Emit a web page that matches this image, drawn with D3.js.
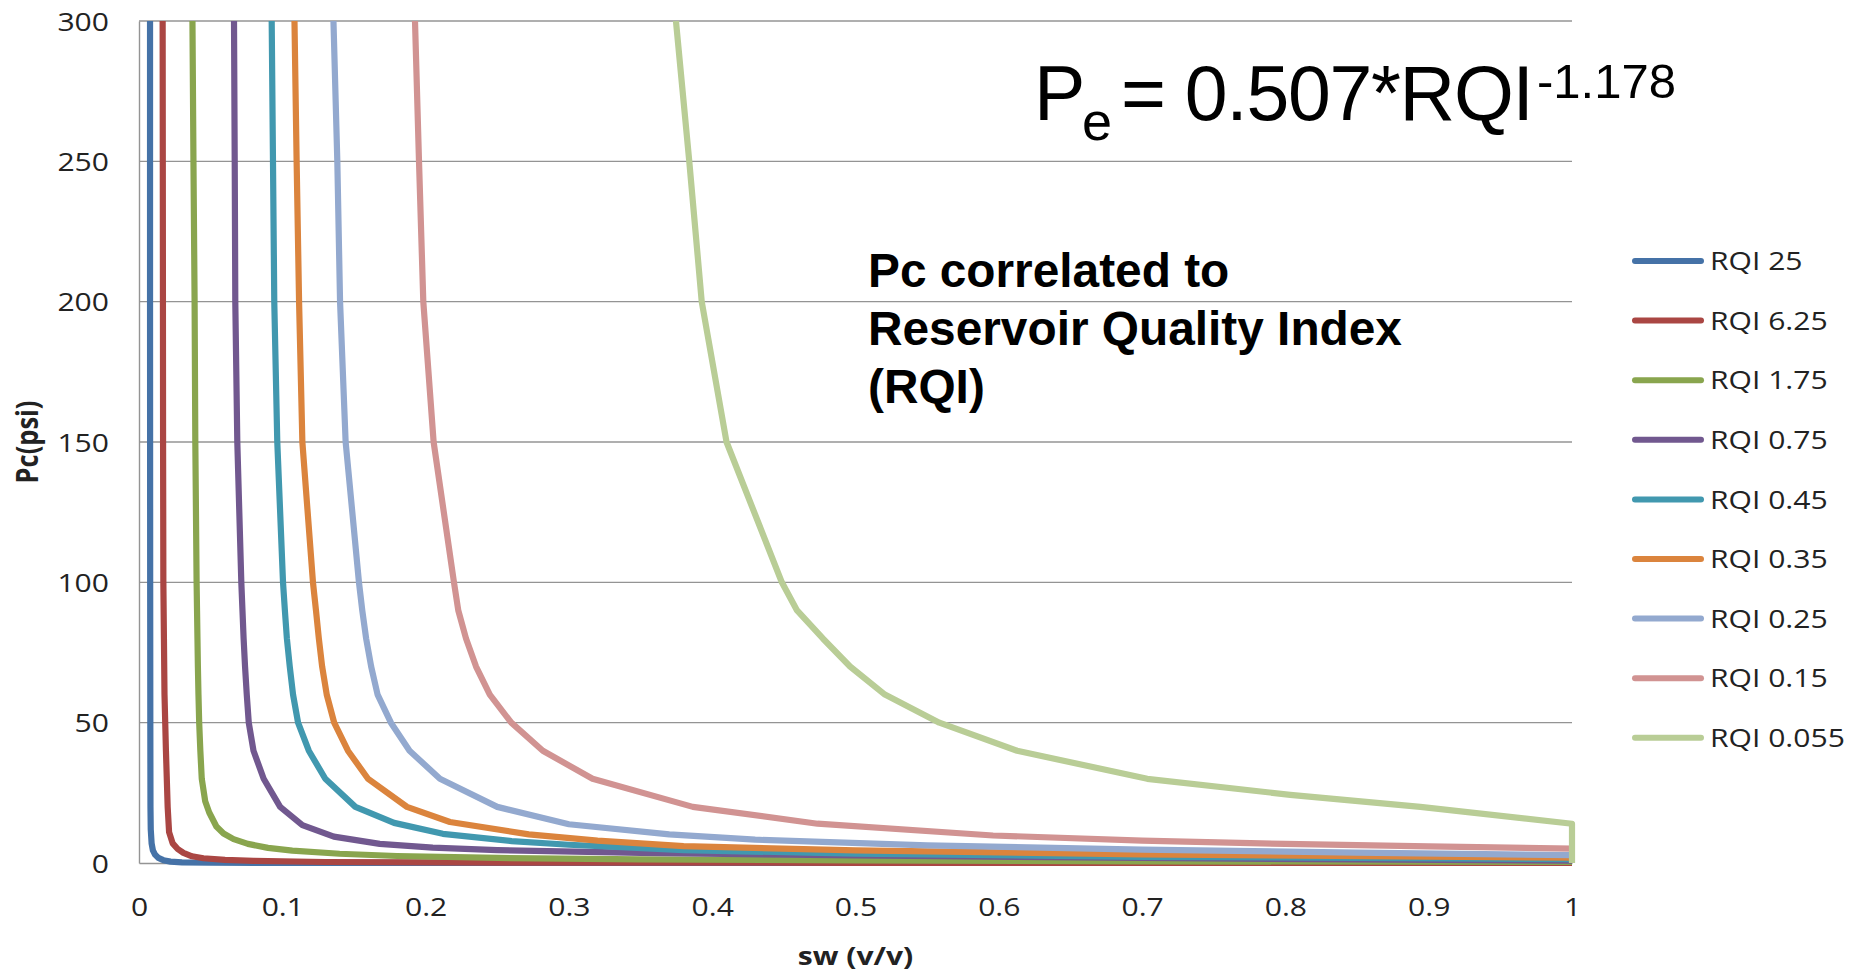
<!DOCTYPE html>
<html>
<head>
<meta charset="utf-8">
<script src="https://cdn.jsdelivr.net/npm/d3@7"></script>
<style>
  html, body { margin: 0; padding: 0; background: #fff; }
  svg { display: block; }
</style>
</head>
<body>
<div class="chart-container"></div>
<script>
// [sw (v/v), Pc (psi)] pairs
var rqi25 = [[0.0077,300],[0.0077,200],[0.0078,100],[0.0079,50],[0.008,20],[0.0082,12],[0.0088,7],[0.0097,4.5],[0.0112,3],[0.0135,1.8],[0.017,1],[0.022,0.5],[0.03,0.25],[0.05,0.1],[0.1,0.05],[0.3,0.02],[1,0.01]];
var rqi625 = [[0.0165,300],[0.0166,250],[0.0167,200],[0.0168,150],[0.017,100],[0.0174,80],[0.0178,60],[0.0183,50],[0.0188,40],[0.0194,30],[0.02,20],[0.021,11],[0.0235,7],[0.027,5],[0.031,3.6],[0.037,2.4],[0.045,1.7],[0.06,1.1],[0.08,0.75],[0.13,0.35],[0.25,0.15],[0.5,0.08],[1,0.05]];
var rqi175 = [[0.0373,300],[0.038,250],[0.0388,200],[0.0393,150],[0.0402,100],[0.0405,90],[0.0408,80],[0.0411,70],[0.0415,60],[0.042,50],[0.0428,40],[0.0438,30],[0.0462,22],[0.049,18],[0.054,13],[0.059,10.5],[0.066,8.5],[0.076,6.8],[0.09,5.4],[0.107,4.4],[0.14,3.3],[0.18,2.5],[0.25,1.8],[0.35,1.3],[0.5,0.9],[0.7,0.6],[1,0.35]];
var rqi075 = [[0.0663,300],[0.0668,250],[0.0672,200],[0.0686,150],[0.0714,100],[0.0722,90],[0.073,80],[0.074,70],[0.0752,60],[0.0766,50],[0.0799,40],[0.087,30],[0.0985,20],[0.114,13.5],[0.136,9.4],[0.168,6.8],[0.205,5.5],[0.25,4.6],[0.35,3.6],[0.5,2.7],[0.7,1.8],[1,0.8]];
var rqi045 = [[0.0926,300],[0.0935,250],[0.0944,200],[0.0965,150],[0.1005,100],[0.1018,90],[0.1032,80],[0.1052,70],[0.1075,60],[0.111,50],[0.1185,40],[0.13,30],[0.151,20],[0.178,14.3],[0.212,10.4],[0.26,7.8],[0.3,6.5],[0.38,4.6],[0.5,3.3],[0.7,2.2],[1,1.4]];
var rqi035 = [[0.1085,300],[0.11,250],[0.1117,200],[0.114,150],[0.1214,100],[0.1235,90],[0.1255,80],[0.1278,70],[0.131,60],[0.1362,50],[0.1458,40],[0.1598,30],[0.187,20],[0.217,14.6],[0.272,10.2],[0.32,8],[0.38,6],[0.5,4.5],[0.7,3.1],[1,1.9]];
var rqi025 = [[0.1357,300],[0.1384,250],[0.1403,200],[0.1442,150],[0.1535,100],[0.1558,90],[0.1585,80],[0.162,70],[0.1665,60],[0.1758,50],[0.1888,40],[0.21,30],[0.25,20],[0.3,13.8],[0.37,10.2],[0.43,8.3],[0.55,6.3],[0.7,4.8],[0.85,3.7],[1,2.8]];
var rqi015 = [[0.1926,300],[0.1954,250],[0.1984,200],[0.2056,150],[0.2198,100],[0.2228,90],[0.2282,80],[0.2352,70],[0.2448,60],[0.2598,50],[0.2818,40],[0.3165,30],[0.3865,20],[0.4735,14],[0.596,9.8],[0.7,8],[0.8,6.8],[0.9,5.9],[1,5.1]];
var rqi0055 = [[0.3747,300],[0.384,250],[0.3927,200],[0.41,150],[0.4486,100],[0.4592,90],[0.4772,80],[0.4962,70],[0.5205,60],[0.5585,50],[0.6128,40],[0.7036,30],[0.8034,24.3],[0.8942,20],[1,14],[1,0]];

var seriesNames = ["RQI 25", "RQI 6.25", "RQI 1.75", "RQI 0.75", "RQI 0.45", "RQI 0.35", "RQI 0.25", "RQI 0.15", "RQI 0.055"];
var seriesData = [rqi25, rqi625, rqi175, rqi075, rqi045, rqi035, rqi025, rqi015, rqi0055];
var seriesColors = ["#4572a7", "#aa4643", "#89a54e", "#71588f", "#4198af", "#db843d", "#93a9cf", "#d19392", "#b9cd96"];

var xTicks = [0, 0.1, 0.2, 0.3, 0.4, 0.5, 0.6, 0.7, 0.8, 0.9, 1];
var yTicks = [0, 50, 100, 150, 200, 250, 300];

var chart_width = 1853;
var chart_height = 975;
var plot = {left: 139, right: 1572, top: 21, bottom: 863};

// the source picture was stretched sideways, so its axis text is wider than normal
var textStretch = 1.18;
var axisFont = "'Open Sans', 'Noto Sans', sans-serif";

var svg = d3.select('.chart-container')
  .append('svg')
  .attr('width', chart_width)
  .attr('height', chart_height)
  .style('background', '#fff');

var x = d3.scaleLinear().domain([0, 1]).range([plot.left, plot.right]);
var y = d3.scaleLinear().domain([0, 300]).range([plot.bottom, plot.top]);

// horizontal gridlines
svg.append('g')
  .selectAll('line')
  .data(yTicks.filter(function (d) { return d > 0; }))
  .enter()
  .append('line')
  .attr('x1', x(0))
  .attr('x2', x(1))
  .attr('y1', function (d) { return y(d); })
  .attr('y2', function (d) { return y(d); })
  .attr('stroke', '#949494')
  .attr('stroke-width', 1.4);

// y axis
var yAxisG = svg.append('g')
  .attr('transform', 'translate(' + plot.left + ',0)')
  .call(d3.axisLeft(y).tickValues(yTicks).tickSize(0).tickPadding(30).tickFormat(d3.format('~g')));
yAxisG.select('.domain').attr('stroke', '#949494').attr('stroke-width', 1.4);
yAxisG.selectAll('text')
  .attr('font-family', axisFont)
  .attr('font-size', 25.5)
  .attr('fill', '#222')
  .attr('x', -30 / textStretch)
  .attr('dy', '0.36em')
  .attr('transform', 'scale(' + textStretch + ',1)');

// x axis
var xAxisG = svg.append('g')
  .attr('transform', 'translate(0,' + plot.bottom + ')')
  .call(d3.axisBottom(x).tickValues(xTicks).tickSize(0).tickPadding(0).tickFormat(d3.format('~g')));
xAxisG.select('.domain').attr('stroke', '#949494').attr('stroke-width', 1.4);
xAxisG.selectAll('text')
  .attr('font-family', axisFont)
  .attr('font-size', 25.5)
  .attr('fill', '#222')
  .attr('y', 53)
  .attr('dy', 0)
  .attr('transform', 'scale(' + textStretch + ',1)');

// axis titles
svg.append('text')
  .text('sw (v/v)')
  .attr('font-family', axisFont)
  .attr('font-weight', 'bold')
  .attr('font-size', 25.5)
  .attr('fill', '#222')
  .attr('text-anchor', 'middle')
  .attr('transform', 'translate(' + x(0.5) + ',965) scale(' + textStretch + ',1)');

svg.append('text')
  .text('Pc(psi)')
  .attr('font-family', axisFont)
  .attr('font-weight', 'bold')
  .attr('font-size', 25.5)
  .attr('fill', '#222')
  .attr('text-anchor', 'middle')
  .attr('transform', 'translate(38,' + y(150) + ') rotate(-90) scale(1,' + textStretch + ')');

// curves
svg.append('defs')
  .append('clipPath')
  .attr('id', 'plot-clip')
  .append('rect')
  .attr('x', plot.left - 10)
  .attr('y', plot.top)
  .attr('width', plot.right - plot.left + 20)
  .attr('height', plot.bottom - plot.top + 10);

var line = d3.line()
  .x(function (d) { return x(d[0]); })
  .y(function (d) { return y(d[1]); });

svg.append('g')
  .attr('clip-path', 'url(#plot-clip)')
  .selectAll('path')
  .data(seriesData)
  .enter()
  .append('path')
  .attr('d', line)
  .attr('fill', 'none')
  .attr('stroke', function (d, i) { return seriesColors[i]; })
  .attr('stroke-width', 6.2)
  .attr('stroke-linejoin', 'round');

// legend
var legend = svg.append('g')
  .selectAll('g')
  .data(seriesNames)
  .enter()
  .append('g')
  .attr('transform', function (d, i) { return 'translate(1632,' + (261 + i * 59.6) + ')'; });

legend.append('line')
  .attr('x1', 3)
  .attr('x2', 69)
  .attr('stroke', function (d, i) { return seriesColors[i]; })
  .attr('stroke-width', 6)
  .attr('stroke-linecap', 'round');

legend.append('text')
  .text(function (d) { return d; })
  .attr('font-family', axisFont)
  .attr('font-size', 25.5)
  .attr('fill', '#222')
  .attr('dy', '0.36em')
  .attr('transform', 'translate(78,0) scale(' + textStretch + ',1)');

// equation, Pe = 0.507*RQI^-1.178, as one text with sub/superscript runs
var eq = svg.append('text')
  .attr('font-family', "'Liberation Sans', Arial, sans-serif")
  .attr('fill', '#000');
eq.append('tspan').text('P').attr('x', 1034).attr('y', 120).attr('font-size', 77);
eq.append('tspan').text('e').attr('x', 1082).attr('y', 140).attr('font-size', 54);
eq.append('tspan').text('= 0.507*RQI').attr('x', 1121).attr('y', 120).attr('font-size', 77)
  .attr('letter-spacing', -1.3);
eq.append('tspan').text('-1.178').attr('x', 1537).attr('y', 98).attr('font-size', 49);

// note
var note = svg.append('text')
  .attr('font-family', "'Liberation Sans', Arial, sans-serif")
  .attr('font-weight', 'bold')
  .attr('font-size', 47.8)
  .attr('fill', '#000');
['Pc correlated to', 'Reservoir Quality Index', '(RQI)'].forEach(function (t, i) {
  note.append('tspan').attr('x', 868).attr('y', 287 + i * 58).text(t);
});
</script>
</body>
</html>
